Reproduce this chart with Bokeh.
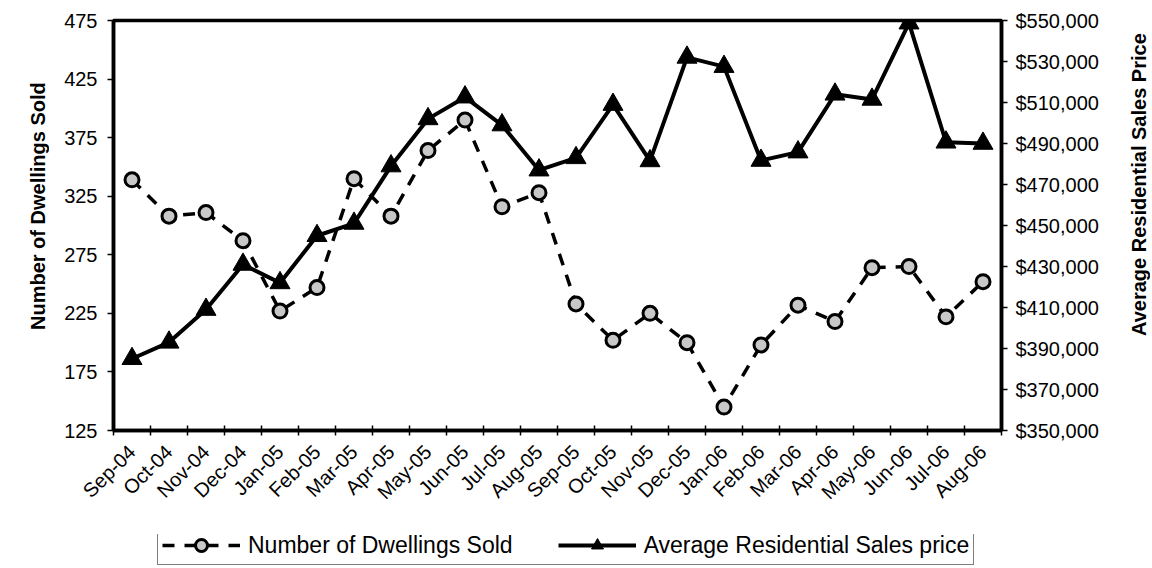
import math
from bokeh.plotting import figure
from bokeh.layouts import row, column
from bokeh.models import (Range1d, LinearAxis, FixedTicker, NumeralTickFormatter,
                          Legend, LegendItem, ColumnDataSource, Div)
from bokeh.embed import file_html
from bokeh.resources import INLINE

# ---- data ----
months = ["Sep-04", "Oct-04", "Nov-04", "Dec-04", "Jan-05", "Feb-05", "Mar-05", "Apr-05",
          "May-05", "Jun-05", "Jul-05", "Aug-05", "Sep-05", "Oct-05", "Nov-05", "Dec-05",
          "Jan-06", "Feb-06", "Mar-06", "Apr-06", "May-06", "Jun-06", "Jul-06", "Aug-06"]
dwellings_sold = [339, 308, 311, 287, 227, 247, 340, 308, 364, 390, 316, 328,
                  233, 202, 225, 200, 145, 198, 232, 218, 264, 265, 222, 252]
avg_price = [385000, 393000, 409000, 431000, 422000, 445000, 451000, 479000,
             502000, 512600, 499000, 477000, 483000, 509000, 481500, 532000,
             527500, 481700, 485800, 514000, 511500, 548700, 490600, 490000]
left_ticks = [125, 175, 225, 275, 325, 375, 425, 475]
right_ticks = [350000, 370000, 390000, 410000, 430000, 450000, 470000, 490000, 510000, 530000, 550000]
left_title = "Number of Dwellings Sold"
right_title = "Average Residential Sales Price"
series_names = ["Number of Dwellings Sold", "Average Residential Sales price"]

FONT = "Liberation Sans"

n = len(months)
centers = [i + 0.5 for i in range(n)]
bounds = list(range(n + 1))

src = ColumnDataSource(dict(x=centers, dw=dwellings_sold, pr=avg_price))

# styles shared by chart and legend
DW_LINE = dict(line_color="black", line_width=3.5, line_dash="12 10")
DW_PTS = dict(marker="circle", size=14, fill_color="#c8c8c8", line_color="black", line_width=3)
PR_LINE = dict(line_color="black", line_width=4)
PR_PTS = dict(marker="triangle", size=20, fill_color="black", line_color="black", line_width=1)

TITLE_STYLE = {"writing-mode": "vertical-rl", "transform": "rotate(180deg)",
               "font-family": FONT, "font-weight": "bold", "font-size": "20px",
               "color": "black", "text-align": "center", "white-space": "nowrap",
               "box-sizing": "border-box"}

p = figure(width=1077, height=534, output_backend="svg", toolbar_location=None,
           x_range=Range1d(0, n), y_range=Range1d(left_ticks[0], left_ticks[-1]),
           min_border_left=63, min_border_right=126, min_border_top=20, min_border_bottom=104,
           x_axis_type=None, y_axis_type=None)
p.extra_y_ranges = {"price": Range1d(right_ticks[0], right_ticks[-1])}
p.xgrid.visible = False
p.ygrid.visible = False
p.outline_line_color = "black"
p.outline_line_width = 3.5
p.background_fill_color = "white"
p.border_fill_color = "white"

# x axis (labels at category centres, tick marks at category boundaries)
xax = LinearAxis(ticker=FixedTicker(ticks=centers, minor_ticks=bounds),
                 major_label_overrides={c: m for c, m in zip(centers, months)})
xax.major_tick_line_color = None
xax.minor_tick_in = 5
xax.minor_tick_out = 5
xax.minor_tick_line_width = 1.5
xax.minor_tick_line_color = "black"
xax.axis_line_width = 3.5
xax.major_label_orientation = math.pi / 4
xax.major_label_standoff = 12
xax.major_label_text_font = FONT
xax.major_label_text_font_size = "20px"
xax.major_label_text_color = "black"
p.add_layout(xax, "below")

# left axis
yax = LinearAxis(ticker=FixedTicker(ticks=left_ticks))
yax.major_tick_in = 0
yax.major_tick_out = 6
yax.major_tick_line_width = 1.5
yax.minor_tick_line_color = None
yax.axis_line_width = 3.5
yax.major_label_standoff = 10
yax.major_label_text_font = FONT
yax.major_label_text_font_size = "20px"
yax.major_label_text_color = "black"
p.add_layout(yax, "left")

# right axis
rax = LinearAxis(y_range_name="price", ticker=FixedTicker(ticks=right_ticks),
                 formatter=NumeralTickFormatter(format="$0,0"))
rax.major_tick_in = 0
rax.major_tick_out = 6
rax.major_tick_line_width = 1.5
rax.minor_tick_line_color = None
rax.axis_line_width = 3.5
rax.major_label_standoff = 8
rax.major_label_text_font = FONT
rax.major_label_text_font_size = "20px"
rax.major_label_text_color = "black"
p.add_layout(rax, "right")

# series
p.line("x", "dw", source=src, **DW_LINE)
p.scatter("x", "dw", source=src, **DW_PTS)
p.line("x", "pr", source=src, y_range_name="price", **PR_LINE)
p.scatter("x", "pr", source=src, y_range_name="price", **PR_PTS)

# axis titles, reading bottom to top
left_div = Div(text=left_title, width=50, height=534, margin=0,
               styles=dict(TITLE_STYLE, **{"line-height": "76px", "padding-top": "122px"}))
right_div = Div(text=right_title, width=25, height=534, margin=0,
                styles=dict(TITLE_STYLE, **{"line-height": "24px", "padding-top": "164px"}))

# legend strip below the chart (proxy renderers lie outside its visible range)
lf = figure(width=1152, height=34, output_backend="svg", toolbar_location=None,
            x_range=Range1d(0, 1), y_range=Range1d(0, 1), min_border=0,
            x_axis_type=None, y_axis_type=None)
lf.outline_line_color = None
lf.xgrid.visible = False
lf.ygrid.visible = False
l1 = lf.line("x", "dw", source=src, **DW_LINE)
l2 = lf.scatter("x", "dw", source=src, **DW_PTS)
l3 = lf.line("x", "pr", source=src, **PR_LINE)
l4 = lf.scatter("x", "pr", source=src, **PR_PTS)
legend = Legend(items=[LegendItem(label=series_names[0], renderers=[l1, l2]),
                       LegendItem(label=series_names[1], renderers=[l3, l4])],
                orientation="horizontal", location=(157, 3),
                border_line_color="black", border_line_width=1.5,
                label_text_font=FONT, label_text_font_size="23px", label_text_color="black",
                glyph_width=78, glyph_height=30, label_height=22, label_standoff=8,
                spacing=45, padding=4, margin=0)
lf.add_layout(legend)

layout = column(row(left_div, p, right_div), lf)
open("out.html", "w").write(file_html(layout, INLINE))
